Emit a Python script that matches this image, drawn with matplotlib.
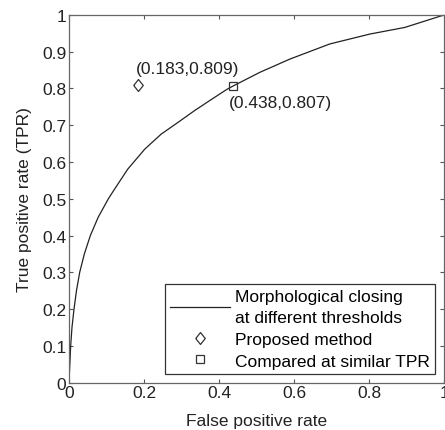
import matplotlib
matplotlib.use("Agg")
import matplotlib.pyplot as plt

plt.rcParams['font.family'] = ['Liberation Sans', 'DejaVu Sans']

# ROC curve
fpr = [0, 0.0045, 0.008, 0.0134, 0.02, 0.0286, 0.041, 0.057, 0.078, 0.105, 0.122, 0.157,
       0.202, 0.246, 0.291, 0.335, 0.375, 0.42, 0.438, 0.509, 0.589, 0.695, 0.802, 0.895, 1.0]
tpr = [0, 0.1, 0.15, 0.2, 0.25, 0.3, 0.35, 0.4, 0.45, 0.5, 0.527, 0.581,
       0.635, 0.676, 0.708, 0.740, 0.767, 0.797, 0.807, 0.844, 0.880, 0.921, 0.948, 0.966, 1.0]

proposed = (0.183, 0.809)
compared = (0.438, 0.807)

xticks = [0, 0.2, 0.4, 0.6, 0.8, 1]
xticklabels = ['0', '0.2', '0.4', '0.6', '0.8', '1']
yticks = [0, 0.1, 0.2, 0.3, 0.4, 0.5, 0.6, 0.7, 0.8, 0.9, 1]
yticklabels = ['0', '0.1', '0.2', '0.3', '0.4', '0.5', '0.6', '0.7', '0.8', '0.9', '1']

# MATLAB style diamond (a bit taller than wide)
diamond = [(-0.4, 0), (0, 0.5), (0.4, 0), (0, -0.5), (-0.4, 0)]

fig = plt.figure(figsize=(4.45, 4.31), dpi=100)
ax = fig.add_axes([0.155, 0.11, 0.843, 0.853])

ax.plot(fpr, tpr, color='#222222', lw=0.9,
        label='Morphological closing\nat different thresholds')
ax.plot(*proposed, marker=diamond, ms=8.6, mfc='white', mec='#333333', mew=0.9,
        ls='none', label='Proposed method')
ax.plot(*compared, marker='s', ms=6, mfc='none', mec='#333333', mew=0.9,
        ls='none', label='Compared at similar TPR')

ax.text(0.179, 0.853, '(%.3f,%.3f)' % proposed, fontsize=12.5, va='center', ha='left', color='#222222')
ax.text(0.427, 0.762, '(%.3f,%.3f)' % compared, fontsize=12.5, va='center', ha='left', color='#222222')

ax.set_xlim(0, 1)
ax.set_ylim(0, 1)
ax.set_xticks(xticks)
ax.set_xticklabels(xticklabels)
ax.set_yticks(yticks)
ax.set_yticklabels(yticklabels)
ax.tick_params(direction='in', top=True, right=True, labelsize=12.5, length=3,
               color='#555555', labelcolor='#222222', pad=2)
for s in ax.spines.values():
    s.set_color('#666666')
    s.set_linewidth(0.9)

ax.set_xlabel('False positive rate', fontsize=12.5, color='#222222', labelpad=9)
ax.set_ylabel('True positive rate (TPR)', fontsize=12.5, color='#222222', labelpad=7)

leg = ax.legend(loc='lower right', bbox_to_anchor=(0.977, 0.024), fontsize=12.5,
                fancybox=False, framealpha=1, edgecolor='#333333',
                handlelength=3.45, handletextpad=0.3, borderpad=0.3,
                labelspacing=0.37, borderaxespad=0)
leg.get_frame().set_linewidth(0.9)
for t in leg.get_texts():
    t.set_linespacing(1.55)

fig.savefig('out.png', dpi=100)
